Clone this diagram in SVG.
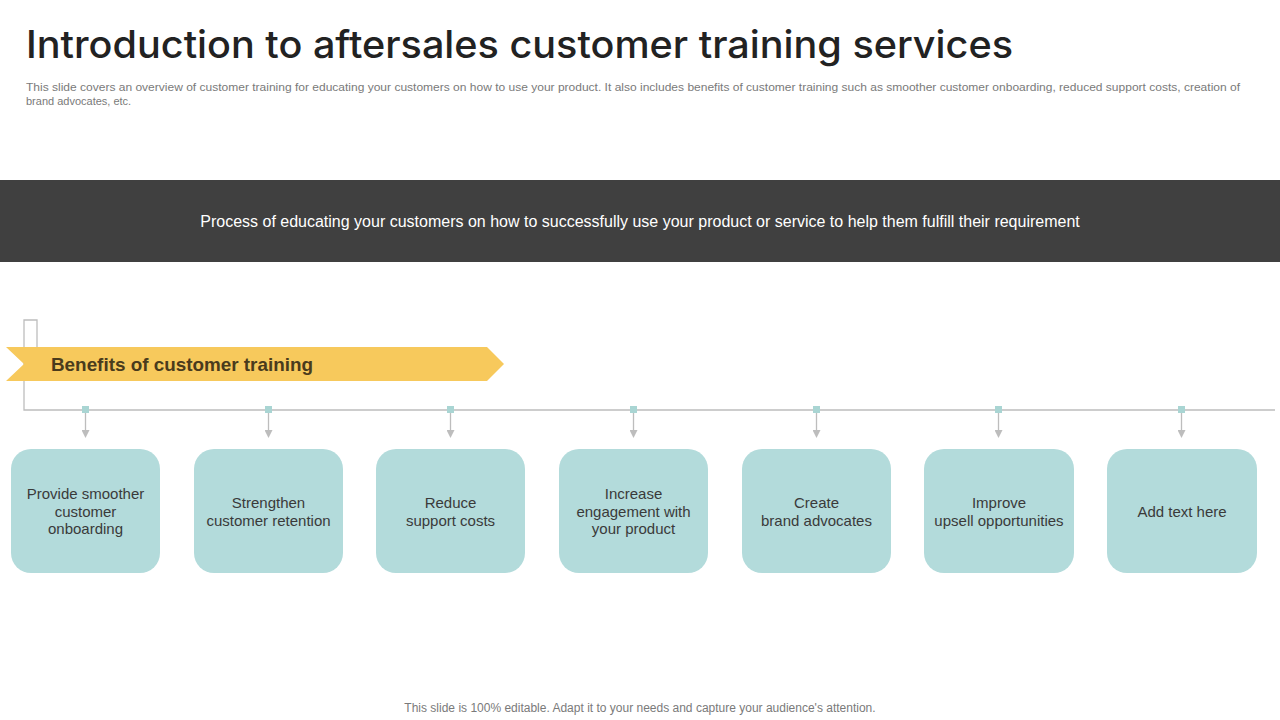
<svg xmlns="http://www.w3.org/2000/svg" width="1280" height="720" viewBox="0 0 1280 720">
<defs>
<style>
.box{fill:#b3dbdb}
.bt{font-family:"Liberation Sans",Arial,sans-serif;font-size:15px;fill:#3a3a3a;text-anchor:middle}
.ln{stroke:#bdbdbd;stroke-width:1.3;fill:none}
.dot{fill:#a9d5d3}
</style>
<marker id="ah" markerWidth="8" markerHeight="8" refX="4" refY="4" orient="auto" markerUnits="userSpaceOnUse"><path d="M0,0 L8,4 L0,8 Z" fill="#bdbdbd"/></marker>
</defs>
<rect width="1280" height="720" fill="#fff"/>
<text x="26" y="58" font-family="Inter,'Open Sans',sans-serif" font-size="38" font-weight="500" fill="#222" textLength="987" lengthAdjust="spacingAndGlyphs">Introduction to aftersales customer training services</text>
<text font-family="'Liberation Sans',Arial,sans-serif" font-size="11" fill="#7a7a7a"><tspan x="26" y="91" textLength="1214" lengthAdjust="spacingAndGlyphs">This slide covers an overview of customer training for educating your customers on how to use your product. It also includes benefits of customer training such as smoother customer onboarding, reduced support costs, creation of</tspan><tspan x="26" y="105">brand advocates, etc.</tspan></text>
<rect x="0" y="180" width="1280" height="82" fill="#404040"/>
<text x="640" y="227" text-anchor="middle" font-family="'Liberation Sans',Arial,sans-serif" font-size="16" fill="#fff">Process of educating your customers on how to successfully  use your product or service to help them fulfill their requirement</text>
<g id="connectors">
<path class="ln" d="M37,347 V320 H24 V410 H1275"/>
<g id="c1"><rect class="dot" x="82" y="406" width="7" height="7"/><line class="ln" x1="85.5" y1="413" x2="85.5" y2="434" marker-end="url(#ah)"/></g>
<g id="c2"><rect class="dot" x="265" y="406" width="7" height="7"/><line class="ln" x1="268.5" y1="413" x2="268.5" y2="434" marker-end="url(#ah)"/></g>
<g id="c3"><rect class="dot" x="447" y="406" width="7" height="7"/><line class="ln" x1="450.5" y1="413" x2="450.5" y2="434" marker-end="url(#ah)"/></g>
<g id="c4"><rect class="dot" x="630" y="406" width="7" height="7"/><line class="ln" x1="633.5" y1="413" x2="633.5" y2="434" marker-end="url(#ah)"/></g>
<g id="c5"><rect class="dot" x="813" y="406" width="7" height="7"/><line class="ln" x1="816.5" y1="413" x2="816.5" y2="434" marker-end="url(#ah)"/></g>
<g id="c6"><rect class="dot" x="995" y="406" width="7" height="7"/><line class="ln" x1="998.5" y1="413" x2="998.5" y2="434" marker-end="url(#ah)"/></g>
<g id="c7"><rect class="dot" x="1178" y="406" width="7" height="7"/><line class="ln" x1="1181.5" y1="413" x2="1181.5" y2="434" marker-end="url(#ah)"/></g>
</g>
<g id="banner">
<polygon points="6,347 487,347 504,364 487,381 6,381 24,364" fill="#f7c95c"/>
<text x="51" y="371" font-family="'Liberation Sans',Arial,sans-serif" font-size="19" font-weight="bold" fill="#4a3b1c" textLength="262" lengthAdjust="spacingAndGlyphs">Benefits of customer training</text>
</g>
<g id="n1"><rect class="box" x="11" y="449" width="149" height="124" rx="20"/><text class="bt"><tspan x="85.5" y="499">Provide smoother</tspan><tspan x="85.5" y="517">customer</tspan><tspan x="85.5" y="534">onboarding</tspan></text></g>
<g id="n2"><rect class="box" x="194" y="449" width="149" height="124" rx="20"/><text class="bt"><tspan x="268.5" y="508">Strengthen</tspan><tspan x="268.5" y="526">customer retention</tspan></text></g>
<g id="n3"><rect class="box" x="376" y="449" width="149" height="124" rx="20"/><text class="bt"><tspan x="450.5" y="508">Reduce</tspan><tspan x="450.5" y="526">support costs</tspan></text></g>
<g id="n4"><rect class="box" x="559" y="449" width="149" height="124" rx="20"/><text class="bt"><tspan x="633.5" y="499">Increase</tspan><tspan x="633.5" y="517">engagement with</tspan><tspan x="633.5" y="534">your product</tspan></text></g>
<g id="n5"><rect class="box" x="742" y="449" width="149" height="124" rx="20"/><text class="bt"><tspan x="816.5" y="508">Create</tspan><tspan x="816.5" y="526">brand advocates</tspan></text></g>
<g id="n6"><rect class="box" x="924" y="449" width="150" height="124" rx="20"/><text class="bt"><tspan x="999" y="508">Improve</tspan><tspan x="999" y="526">upsell opportunities</tspan></text></g>
<g id="n7"><rect class="box" x="1107" y="449" width="150" height="124" rx="20"/><text class="bt" x="1182" y="517">Add text here</text></g>
<text x="640" y="712" text-anchor="middle" font-family="'Liberation Sans',Arial,sans-serif" font-size="12" fill="#7a7a7a">This slide is 100% editable. Adapt it to your needs and capture your audience's attention.</text>
</svg>
